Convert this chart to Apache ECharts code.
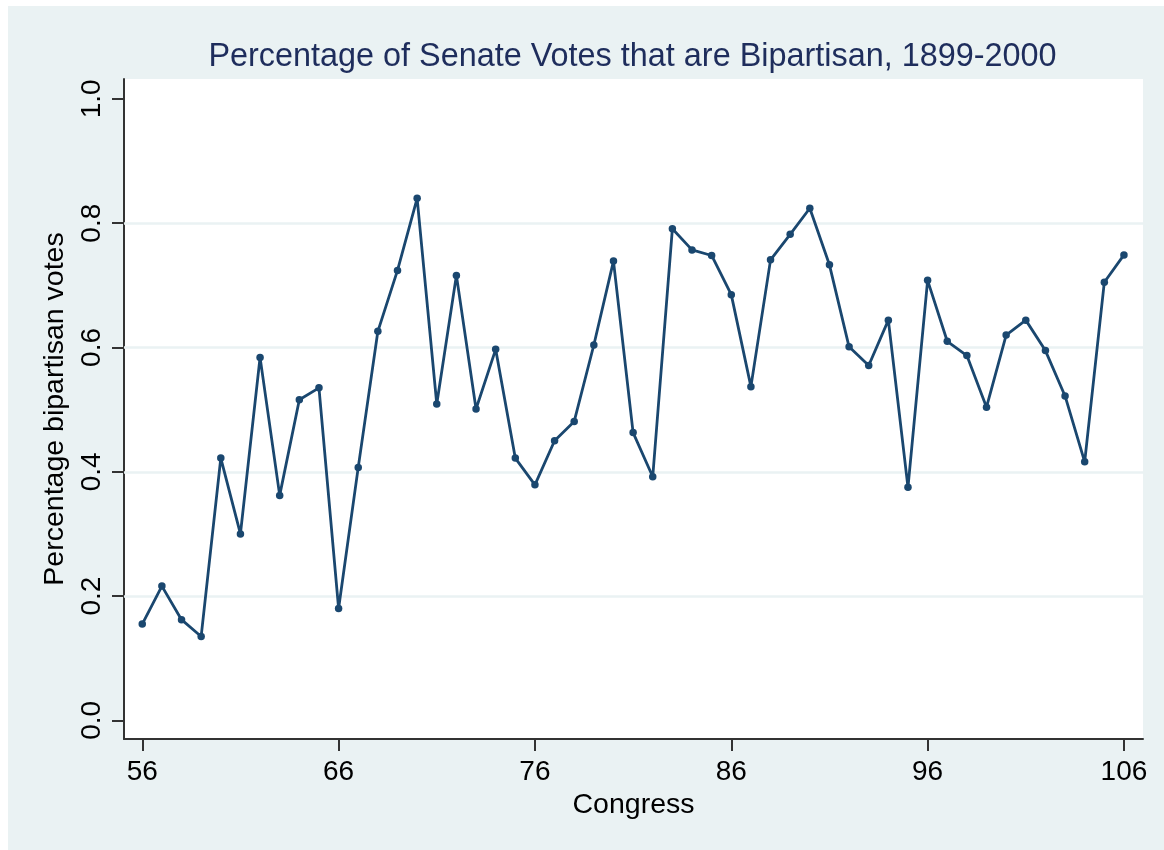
<!DOCTYPE html>
<html>
<head>
<meta charset="utf-8">
<title>Percentage of Senate Votes that are Bipartisan, 1899-2000</title>
<script src="https://cdn.jsdelivr.net/npm/echarts@6/dist/echarts.min.js"></script>
<style>
  html, body { margin: 0; padding: 0; background: #ffffff; width: 1164px; height: 850px; overflow: hidden; }
  #chart { position: absolute; left: 8px; top: 6px; width: 1156px; height: 844px; }
</style>
</head>
<body>
<div id="chart"></div>
<script>
// Congress number (56th = 1899 ... 106th = 1999-2000)
const congresses = [
  56, 57, 58, 59, 60, 61, 62, 63, 64, 65,
  66, 67, 68, 69, 70, 71, 72, 73, 74, 75,
  76, 77, 78, 79, 80, 81, 82, 83, 84, 85,
  86, 87, 88, 89, 90, 91, 92, 93, 94, 95,
  96, 97, 98, 99, 100, 101, 102, 103, 104, 105,
  106
];

// Share of Senate roll-call votes that were bipartisan
const bipartisanShare = [
  0.155, 0.216, 0.162, 0.135, 0.422, 0.300, 0.584, 0.362, 0.516, 0.535,
  0.180, 0.407, 0.626, 0.724, 0.840, 0.509, 0.716, 0.501, 0.597, 0.422,
  0.379, 0.450, 0.481, 0.604, 0.739, 0.463, 0.392, 0.791, 0.757, 0.748,
  0.685, 0.537, 0.741, 0.782, 0.824, 0.733, 0.601, 0.571, 0.644, 0.375,
  0.708, 0.610, 0.587, 0.504, 0.620, 0.644, 0.595, 0.522, 0.416, 0.705,
  0.749
];

const xTicks = [56, 66, 76, 86, 96, 106];
const yTicks = [0, 0.2, 0.4, 0.6, 0.8, 1.0];
const yGridLines = [0.2, 0.4, 0.6, 0.8];

const titleText = 'Percentage of Senate Votes that are Bipartisan, 1899-2000';
const xTitle = 'Congress';
const yTitle = 'Percentage bipartisan votes';

const FONT = '"Liberation Sans", Arial, Helvetica, sans-serif';
const BG = '#EAF2F3';
const NAVY = '#1A476F';
const AXIS = '#333333';

const points = congresses.map((c, i) => [c, bipartisanShare[i]]);

const chart = echarts.init(document.getElementById('chart'), null, { renderer: 'canvas' });

chart.setOption({
  backgroundColor: BG,
  animation: false,
  graphic: [
    {
      type: 'text',
      x: 624.5,
      y: 51,
      style: {
        text: titleText,
        fill: '#1E2D5C',
        font: '32.4px ' + FONT,
        align: 'center',
        verticalAlign: 'middle'
      }
    }
  ],
  grid: {
    left: 116,
    top: 73,
    width: 1019,
    height: 660,
    show: true,
    backgroundColor: '#ffffff',
    borderWidth: 0
  },
  xAxis: {
    type: 'value',
    min: 55.07,
    max: 106.97,
    name: xTitle,
    nameLocation: 'middle',
    nameGap: 48,
    nameTextStyle: { fontFamily: FONT, fontSize: 28.5, color: '#000000' },
    axisLine: { show: true, onZero: false, lineStyle: { color: AXIS, width: 2 } },
    axisTick: { show: true, length: 12, customValues: xTicks, lineStyle: { color: AXIS, width: 2 } },
    axisLabel: {
      customValues: xTicks,
      margin: 19,
      fontFamily: FONT,
      fontSize: 28,
      color: '#000000'
    },
    splitLine: { show: false }
  },
  yAxis: {
    type: 'value',
    min: -0.03,
    max: 1.032,
    name: yTitle,
    nameLocation: 'middle',
    nameGap: 52,
    nameTextStyle: { fontFamily: FONT, fontSize: 28.5, color: '#000000' },
    axisLine: { show: true, onZero: false, lineStyle: { color: AXIS, width: 2 } },
    axisTick: { show: true, length: 12, customValues: yTicks, lineStyle: { color: AXIS, width: 2 } },
    axisLabel: {
      customValues: yTicks,
      rotate: 90,
      margin: 18,
      fontFamily: FONT,
      fontSize: 28,
      color: '#000000',
      formatter: v => v.toFixed(1)
    },
    splitLine: { show: false }
  },
  series: [
    {
      // horizontal reference lines behind the data
      type: 'line',
      data: [],
      z: 1,
      silent: true,
      markLine: {
        z: 1,
        silent: true,
        animation: false,
        symbol: ['none', 'none'],
        label: { show: false },
        lineStyle: { color: BG, width: 2.5, type: 'solid' },
        emphasis: { disabled: true },
        data: yGridLines.map(v => ({ yAxis: v }))
      }
    },
    {
      type: 'line',
      data: points,
      z: 3,
      symbol: 'circle',
      symbolSize: 7.5,
      showAllSymbol: true,
      lineStyle: { color: NAVY, width: 2.8 },
      itemStyle: { color: NAVY },
      emphasis: { disabled: true }
    }
  ]
});
</script>
</body>
</html>
